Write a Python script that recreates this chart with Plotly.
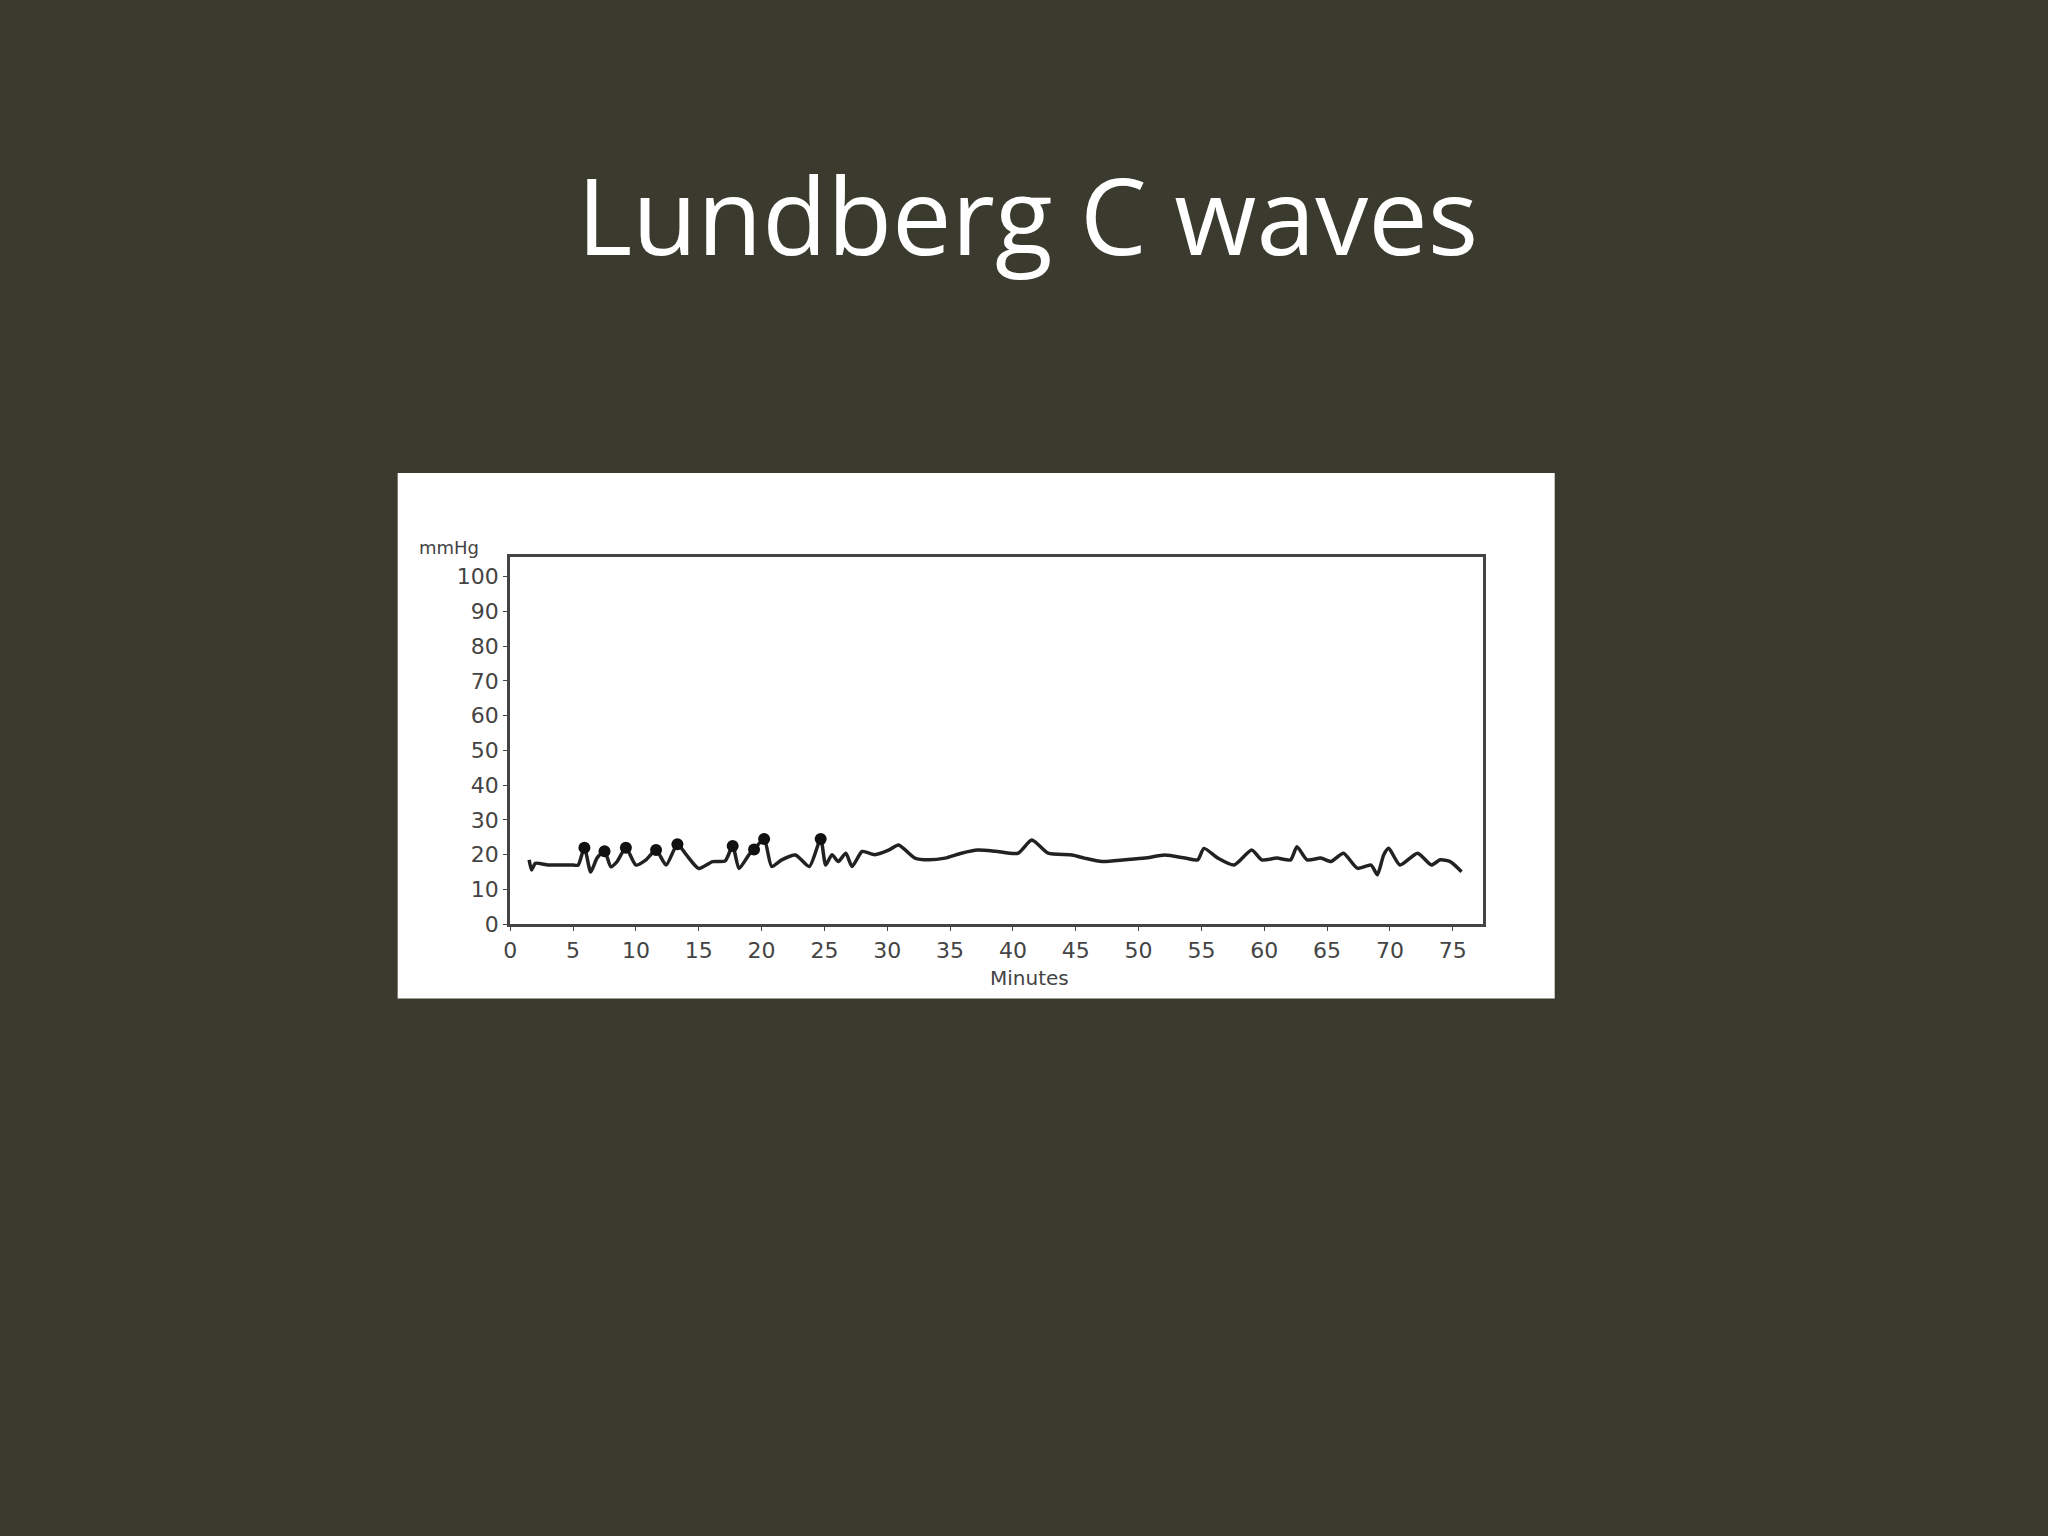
import plotly.graph_objects as go

# ICP trace (minutes, mmHg)
minutes = [1.5, 1.7, 2.0, 3.0, 4.0, 5.0, 5.4, 5.9, 6.4, 6.9, 7.5, 8.0, 8.5, 9.2, 10.0, 10.8,
           11.6, 12.4, 13.3, 14.0, 15.0, 16.1, 17.1, 17.7, 18.2, 19.0, 19.4, 20.2, 20.8, 21.6,
           22.7, 23.8, 24.7, 25.1, 25.6, 26.1, 26.7, 27.2, 28.0, 29.0, 30.1, 30.9, 32.2, 33.3,
           34.6, 35.9, 37.2, 38.6, 40.4, 41.5, 42.8, 44.7, 45.7, 47.1, 48.9, 50.5, 52.1, 53.7,
           54.7, 55.2, 56.3, 57.6, 59.0, 59.8, 61.0, 62.1, 62.6, 63.4, 64.5, 65.3, 66.3, 67.4,
           68.5, 69.0, 69.5, 69.9, 70.8, 72.2, 73.3, 74.0, 74.8, 75.7]
pressure = [18.5, 15.6, 17.5, 17.0, 17.0, 17.0, 17.0, 22.0, 15.0, 19.0, 21.0, 16.5, 18.0, 22.0,
            17.0, 18.5, 21.3, 17.0, 23.0, 20.0, 16.0, 18.0, 18.2, 22.5, 16.0, 20.0, 21.5, 24.5,
            16.6, 18.5, 19.9, 16.6, 24.5, 17.0, 20.0, 18.0, 20.4, 16.6, 20.9, 20.0, 21.3, 22.8,
            19.0, 18.5, 19.0, 20.4, 21.3, 21.0, 20.4, 24.2, 20.4, 19.9, 19.0, 18.0, 18.5, 19.0,
            19.9, 19.0, 18.5, 21.8, 19.0, 17.0, 21.3, 18.5, 19.0, 18.5, 22.3, 18.5, 19.0, 18.0,
            20.4, 16.1, 17.0, 14.2, 19.9, 21.8, 17.0, 20.4, 17.0, 18.5, 18.0, 15.1]

# C-wave peak markers
peak_minutes = [5.9, 7.5, 9.2, 11.6, 13.3, 17.7, 19.4, 20.2, 24.7]
peak_pressure = [22.0, 21.0, 22.0, 21.3, 23.0, 22.5, 21.5, 24.5, 24.5]

x_ticks = list(range(0, 80, 5))
y_ticks = list(range(0, 110, 10))

BG = "#3b3a2e"
INK = "#222222"

fig = go.Figure()
fig.add_trace(go.Scatter(x=minutes, y=pressure, mode="lines",
                         line=dict(color=INK, width=3.5, shape="spline", smoothing=0.6),
                         showlegend=False))
fig.add_trace(go.Scatter(x=peak_minutes, y=peak_pressure, mode="markers",
                         marker=dict(color="#111111", size=12), showlegend=False))

fig.update_layout(
    width=2048, height=1536,
    margin=dict(l=0, r=0, t=0, b=0),
    paper_bgcolor=BG, plot_bgcolor="white",
    showlegend=False,
    shapes=[dict(type="rect", xref="paper", yref="paper", layer="below",
                 x0=392/2048, x1=1553/2048, y0=1-1007/1536, y1=1-477/1536,
                 fillcolor="white", line=dict(width=0))],
    annotations=[
        dict(text="Lundberg C waves", xref="paper", yref="paper", x=1024.5/2048, y=1-216/1536,
             xanchor="center", yanchor="middle", showarrow=False,
             font=dict(family="Open Sans", size=106, color="white")),
        dict(text="mmHg", xref="paper", yref="paper", x=476/2048, y=1-552/1536,
             xanchor="right", yanchor="middle", showarrow=False,
             font=dict(family="DejaVu Sans", size=18, color="#444444")),
        dict(text="Minutes", xref="paper", yref="paper", x=1026/2048, y=1-986/1536,
             xanchor="center", yanchor="middle", showarrow=False,
             font=dict(family="DejaVu Sans", size=20, color="#444444")),
    ],
    xaxis=dict(domain=[505/2048, 1481/2048], range=[0, 77.4], tickvals=x_ticks,
               showgrid=False, zeroline=False, showline=True, mirror=True,
               linecolor="#444444", linewidth=3, ticks="outside", ticklen=4,
               tickcolor="#444444", tickfont=dict(family="DejaVu Sans", size=22, color="#444444")),
    yaxis=dict(domain=[1-932/1536, 1-562/1536], range=[0, 105.6], tickvals=y_ticks,
               showgrid=False, zeroline=False, showline=True, mirror=True,
               linecolor="#444444", linewidth=3, ticks="outside", ticklen=4,
               tickcolor="#444444", tickfont=dict(family="DejaVu Sans", size=22, color="#444444")),
)

fig.write_html("out.html",
               config={"displayModeBar": False},
               post_script="document.body.style.margin='0';"
                           "document.body.style.background='#3b3a2e';"
                           "document.documentElement.style.overflow='hidden';"
                           "document.body.style.overflow='hidden';")
